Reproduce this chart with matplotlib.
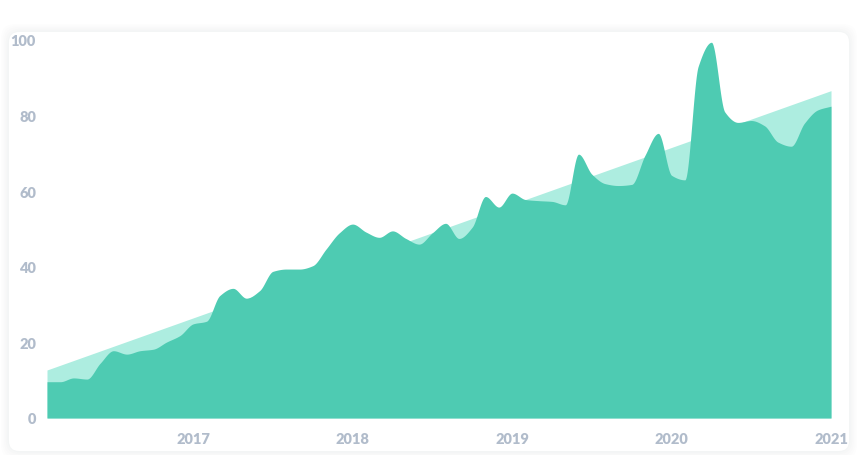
import numpy as np
import matplotlib
matplotlib.use("Agg")
import matplotlib.pyplot as plt
from matplotlib.patches import FancyBboxPatch

# ---- data (monthly, Feb 2016 .. Jan 2021) ----
start_year = 2016
values = [9.6, 9.6, 10.6, 10.3, 14.5, 17.8, 16.9, 17.8, 18.2, 20.1,
          21.8, 24.9, 25.6, 32.4, 34.3, 31.7, 33.7, 38.8, 39.4, 39.4,
          40.3, 44.7, 49.0, 51.3, 49.2, 47.8, 49.5, 47.5, 46.0, 49.0,
          51.5, 47.5, 50.5, 58.6, 55.8, 59.5, 57.8, 57.5, 57.3, 56.4,
          69.8, 64.5, 62.0, 61.5, 61.8, 69.5, 75.3, 64.2, 63.0, 93.0,
          99.4, 81.0, 78.2, 78.7, 77.3, 73.0, 71.9, 78.0, 81.5, 82.5]
trend_start = 12.7
trend_end = 86.6
year_ticks = [2017, 2018, 2019, 2020, 2021]
y_ticks = [0, 20, 40, 60, 80, 100]

x = np.array([start_year + (i + 1) / 12 for i in range(len(values))])
y = np.array(values, dtype=float)


def monotone_cubic(xk, yk, n=40):
    h = np.diff(xk)
    d = np.diff(yk) / h
    m = np.zeros_like(yk)
    m[0], m[-1] = d[0], d[-1]
    for k in range(1, len(yk) - 1):
        if d[k - 1] * d[k] <= 0:
            m[k] = 0.0
        else:
            w1 = 2 * h[k] + h[k - 1]
            w2 = h[k] + 2 * h[k - 1]
            m[k] = (w1 + w2) / (w1 / d[k - 1] + w2 / d[k])
    xs, ys = [], []
    for k in range(len(xk) - 1):
        t = np.linspace(0, 1, n, endpoint=False)
        hk = h[k]
        h00 = 2 * t**3 - 3 * t**2 + 1
        h10 = t**3 - 2 * t**2 + t
        h01 = -2 * t**3 + 3 * t**2
        h11 = t**3 - t**2
        xs.append(xk[k] + t * hk)
        ys.append(h00 * yk[k] + h10 * hk * m[k] + h01 * yk[k + 1] + h11 * hk * m[k + 1])
    xs.append([xk[-1]])
    ys.append([yk[-1]])
    return np.concatenate(xs), np.concatenate(ys)


xs, ys = monotone_cubic(x, y)
trend = np.array([trend_start, trend_end])

W, H = 861, 456
fig = plt.figure(figsize=(W / 100, H / 100), dpi=100)
fig.patch.set_facecolor("white")

# card with soft shadow
bg = fig.add_axes([0, 0, 1, 1])
bg.set_xlim(0, W)
bg.set_ylim(H, 0)
bg.axis("off")
for i, a in enumerate([0.012, 0.012, 0.015, 0.018, 0.02]):
    pad = 8 - i * 1.6
    bg.add_patch(FancyBboxPatch((9 - pad, 33 - pad), 840 + 2 * pad, 419 + 2 * pad,
                                boxstyle="round,pad=0,rounding_size=14",
                                facecolor="#8a94a6", edgecolor="none", alpha=a))
bg.add_patch(FancyBboxPatch((9, 33), 840, 419,
                            boxstyle="round,pad=0,rounding_size=10",
                            facecolor="white", edgecolor="none"))

ax = fig.add_axes([47 / W, 1 - 419 / H, (831 - 47) / W, (419 - 41) / H])
ax.set_facecolor("none")
ax.fill_between([x[0], x[-1]], 0, trend, color="#adede0", linewidth=0, zorder=1)
ax.fill_between(xs, 0, ys, color="#4ecbb2", linewidth=0, zorder=2)

ax.set_xlim(x[0], x[-1])
ax.set_ylim(0, 100)
ax.set_xticks(year_ticks)
ax.set_xticklabels([str(t) for t in year_ticks])
ax.set_yticks(y_ticks)
ax.set_yticklabels([str(t) for t in y_ticks])
for s in ax.spines.values():
    s.set_visible(False)
ax.tick_params(length=0, colors="#b1bccb", labelsize=10.5)
ax.tick_params(axis="x", pad=10)
ax.tick_params(axis="y", pad=8)
for lab in ax.get_xticklabels() + ax.get_yticklabels():
    lab.set_fontfamily(["Lato", "DejaVu Sans"])
    lab.set_fontweight("heavy")

fig.savefig("out.png", dpi=100, facecolor=fig.get_facecolor())
